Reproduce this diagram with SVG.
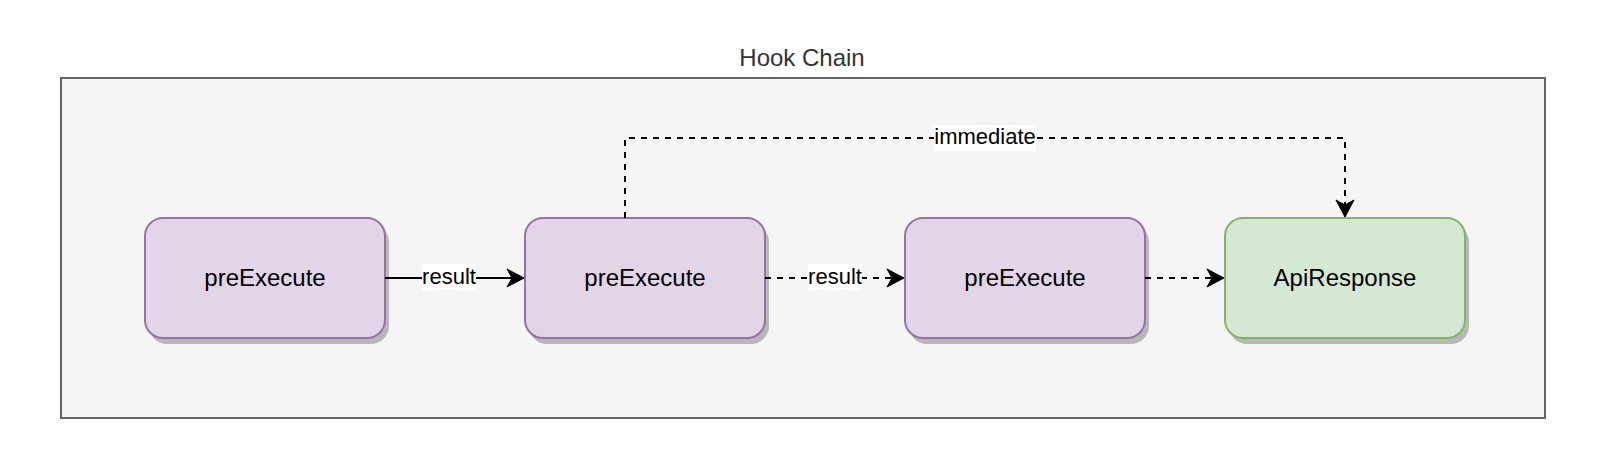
<svg xmlns="http://www.w3.org/2000/svg" width="1620" height="472" viewBox="0 0 1620 472">
<style>
text{font-family:"Liberation Sans",Arial,Helvetica,sans-serif;text-anchor:middle;}
.node{font-size:24px;fill:#000;}
.lbl{font-size:22px;fill:#000;}
.title{font-size:24px;fill:#333333;}
.shadow{fill:#b8b8b8;}
.purple{fill:#e1d5e7;stroke:#9673a6;stroke-width:2;}
.green{fill:#d5e8d4;stroke:#82b366;stroke-width:2;}
.edge{fill:none;stroke:#000;stroke-width:2;}
.dash{stroke-dasharray:6 6;}
.lblbg{fill:#ffffff;}
</style>
<defs>
<marker id="arrow" markerUnits="userSpaceOnUse" markerWidth="20" markerHeight="20" viewBox="-18 -10 20 20" refX="0" refY="0" orient="auto">
<path d="M0,0 L-17,-9 L-12,0 L-17,9 Z" fill="#000" stroke="#000" stroke-width="1"/>
</marker>
</defs>
<rect width="1620" height="472" fill="#ffffff"/>
<g id="container">
<rect x="61" y="78" width="1484" height="340" fill="#f5f5f5" stroke="#666666" stroke-width="2"/>
<text class="title" x="802" y="66">Hook Chain</text>
</g>
<g id="node1">
<rect class="shadow" x="149" y="224" width="240" height="120" rx="18"/>
<rect class="purple" x="145" y="218" width="240" height="120" rx="18"/>
<text class="node" x="265" y="286">preExecute</text>
</g>
<g id="node2">
<rect class="shadow" x="529" y="224" width="240" height="120" rx="18"/>
<rect class="purple" x="525" y="218" width="240" height="120" rx="18"/>
<text class="node" x="645" y="286">preExecute</text>
</g>
<g id="node3">
<rect class="shadow" x="909" y="224" width="240" height="120" rx="18"/>
<rect class="purple" x="905" y="218" width="240" height="120" rx="18"/>
<text class="node" x="1025" y="286">preExecute</text>
</g>
<g id="node4">
<rect class="shadow" x="1229" y="224" width="240" height="120" rx="18"/>
<rect class="green" x="1225" y="218" width="240" height="120" rx="18"/>
<text class="node" x="1345" y="286">ApiResponse</text>
</g>
<g id="connectors">
<path class="edge" d="M385,278 L524,278" marker-end="url(#arrow)"/>
<rect class="lblbg" x="422" y="264" width="54" height="26"/>
<text class="lbl" x="449" y="284">result</text>
<path class="edge dash" d="M765,278 L904,278" marker-end="url(#arrow)"/>
<rect class="lblbg" x="808" y="264" width="54" height="26"/>
<text class="lbl" x="835" y="284">result</text>
<path class="edge dash" d="M1145,278 L1224,278" marker-end="url(#arrow)"/>
<path class="edge dash" d="M625,218 L625,138 L1345,138 L1345,217" marker-end="url(#arrow)"/>
<rect class="lblbg" x="934" y="125" width="102" height="26"/>
<text class="lbl" x="985" y="144">immediate</text>
</g>
</svg>
